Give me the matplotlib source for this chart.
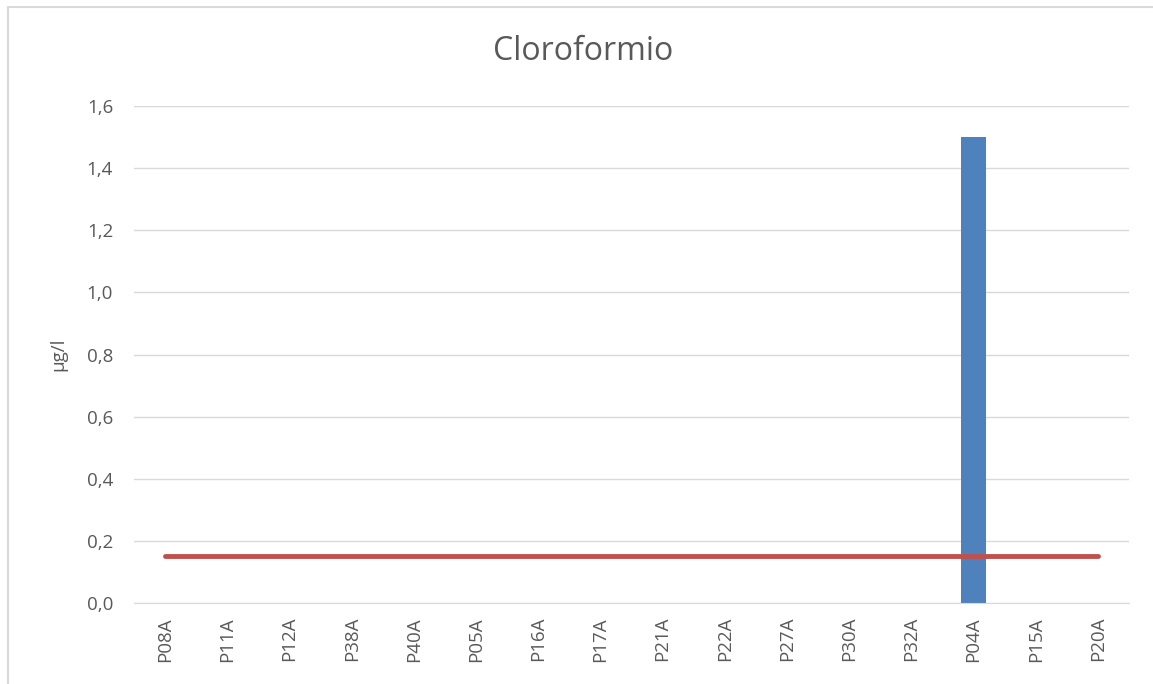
import matplotlib.pyplot as plt
from matplotlib.patches import Rectangle

# sampling points and chloroform concentrations (µg/l)
punti = ["P08A", "P11A", "P12A", "P38A", "P40A", "P05A", "P16A", "P17A",
         "P21A", "P22A", "P27A", "P30A", "P32A", "P04A", "P15A", "P20A"]
valori = [0, 0, 0, 0, 0, 0, 0, 0, 0, 0, 0, 0, 0, 1.5, 0, 0]
limite = [0.15] * len(punti)
yticks = [0.0, 0.2, 0.4, 0.6, 0.8, 1.0, 1.2, 1.4, 1.6]

grigio = "#595959"
plt.rcParams['font.family'] = ['Open Sans', 'DejaVu Sans']

fig = plt.figure(figsize=(11.53, 6.84), dpi=100)
W, H = 1153, 684
ax = fig.add_axes([134 / W, 1 - 603 / H, (1129 - 134) / W, (603 - 106) / H])

# outer chart border
fig.patches.append(Rectangle((8 / W, -0.1), 1.2, (1 - 7 / H) + 0.1,
                             transform=fig.transFigure, fill=False,
                             edgecolor="#d9d9d9", linewidth=1.5))

x = list(range(len(punti)))
ax.bar(x, valori, width=0.4, color="#4f81bd", zorder=2)
ax.plot(x, limite, color="#c0504d", linewidth=3.5, solid_capstyle="round", zorder=3)

ax.set_xlim(-0.5, len(punti) - 0.5)
ax.set_ylim(0, 1.6)
ax.set_yticks(yticks)
ax.set_yticklabels([f"{v:.1f}".replace(".", ",") for v in yticks])
ax.set_xticks(x)
ax.set_xticklabels(punti, rotation=90)
ax.grid(axis="y", color="#d9d9d9", linewidth=1)
ax.set_axisbelow(True)
for s in ["top", "right", "left"]:
    ax.spines[s].set_visible(False)
ax.spines["bottom"].set_color("#d9d9d9")
ax.tick_params(axis="both", length=0, colors=grigio, labelsize=13.5)
ax.tick_params(axis="y", pad=15)
ax.tick_params(axis="x", pad=10)

ax.set_ylabel("µg/l", color=grigio, fontsize=13.5, labelpad=14)
fig.text(583 / W, 1 - 52 / H, "Cloroformio", ha="center", va="center",
         fontsize=23, color=grigio)

fig.savefig("out.png", dpi=100)
